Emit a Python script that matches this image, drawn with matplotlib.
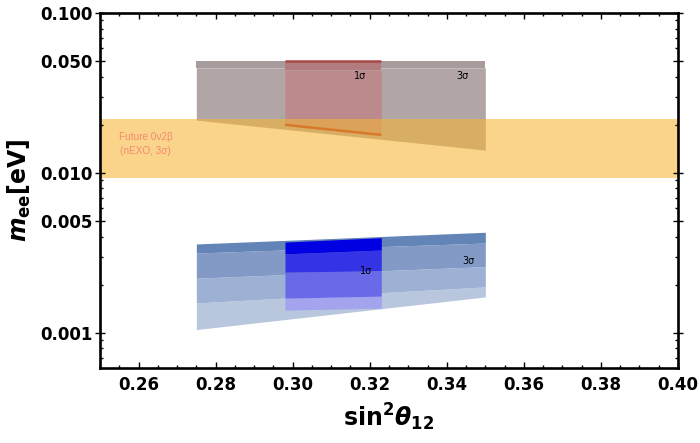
#m_ee vs sin^2(theta12) plot
import numpy as np
import matplotlib.pyplot as plt
from matplotlib.ticker import FixedLocator, FixedFormatter, MultipleLocator, LogLocator, NullFormatter

plt.rcParams['mathtext.fontset'] = 'custom'
plt.rcParams['mathtext.rm'] = 'DejaVu Sans:bold'
plt.rcParams['mathtext.bf'] = 'DejaVu Sans:bold'
plt.rcParams['mathtext.it'] = 'DejaVu Sans:italic:bold'

#Data
s12_3s      = [0.275, 0.350]   #sin^2 theta12, 3 sigma range
s12_1s      = [0.298, 0.323]   #sin^2 theta12, 1 sigma range

#Inverted ordering cloud (upper)
ih_3s_top   = [0.0500, 0.0500]
ih_3s_solid = [0.0455, 0.0455]
ih_3s_bot   = [0.0214, 0.0139]
ih_1s_top   = [0.0500, 0.0500]
ih_1s_solid = [0.0440, 0.0440]
ih_1s_bot   = [0.0200, 0.0173]

#Normal ordering cloud (lower), split by point density
nh_3s_top   = [0.00360, 0.00426]
nh_3s_solid = [0.00316, 0.00365]
nh_3s_mid   = [0.00220, 0.00260]
nh_3s_dense = [0.00154, 0.00194]
nh_3s_bot   = [0.00105, 0.00168]

nh_1s_top   = [0.00370, 0.00394]
nh_1s_solid = [0.00312, 0.00330]
nh_1s_mid   = [0.00240, 0.00245]
nh_1s_dense = [0.00165, 0.00170]
nh_1s_bot   = [0.00139, 0.00143]

#nEXO future sensitivity band
nexo_band   = [0.00935, 0.02175]

x_ticks     = [0.26, 0.28, 0.30, 0.32, 0.34, 0.36, 0.38, 0.40]
x_labels    = ['0.26', '0.28', '0.30', '0.32', '0.34', '0.36', '0.38', '0.40']
y_ticks     = [0.001, 0.005, 0.010, 0.050, 0.100]
y_labels    = ['0.001', '0.005', '0.010', '0.050', '0.100']

def main():
    fig = plt.figure(figsize=(7, 4.43), dpi=100)
    ax = fig.add_axes([100/700, 1-368/443, 578/700, 355/443])

    #IH cloud
    ax.fill_between(s12_3s, ih_3s_bot, ih_3s_solid, color='#b1a5a5', lw=0)
    ax.fill_between(s12_3s, ih_3s_solid, ih_3s_top, color='#a89b9b', lw=0)
    ax.fill_between(s12_1s, ih_1s_bot, ih_1s_solid, color='#bc8a8c', lw=0)
    ax.fill_between(s12_1s, ih_1s_solid, ih_1s_top, color='#b27c7e', lw=0)
    ax.plot(s12_1s, ih_1s_top, color='#a84848', lw=1.8, solid_capstyle='butt')

    #NH cloud
    ax.fill_between(s12_3s, nh_3s_bot, nh_3s_dense, color='#b8c6de', lw=0)
    ax.fill_between(s12_3s, nh_3s_dense, nh_3s_mid, color='#9cb1d3', lw=0)
    ax.fill_between(s12_3s, nh_3s_mid, nh_3s_solid, color='#8399c6', lw=0)
    ax.fill_between(s12_3s, nh_3s_solid, nh_3s_top, color='#6384b7', lw=0)

    ax.fill_between(s12_1s, nh_1s_bot, nh_1s_dense, color='#a4a4ee', lw=0)
    ax.fill_between(s12_1s, nh_1s_dense, nh_1s_mid, color='#6a6ae8', lw=0)
    ax.fill_between(s12_1s, nh_1s_mid, nh_1s_solid, color='#3434e6', lw=0)
    ax.fill_between(s12_1s, nh_1s_solid, nh_1s_top, color='#0000e2', lw=0)

    #nEXO band on top, semi transparent
    ax.axhspan(nexo_band[0], nexo_band[1], color='#f6b535', alpha=0.58, lw=0)
    ax.plot(s12_1s, ih_1s_bot, color='#d8782a', lw=1.8, solid_capstyle='butt')

    ax.text(0.2619, 0.0152, 'Future 0ν2β\n(nEXO, 3σ)', color='#f58a70',
            family=['Liberation Sans', 'DejaVu Sans'], fontsize=7.2,
            ha='center', va='center', linespacing=1.45)

    #sigma labels
    ax.text(0.3175, 0.0404, '1σ', fontsize=7, ha='center', va='center')
    ax.text(0.3441, 0.0404, '3σ', fontsize=7, ha='center', va='center')
    ax.text(0.3190, 0.00244, '1σ', fontsize=7, ha='center', va='center')
    ax.text(0.3457, 0.00282, '3σ', fontsize=7, ha='center', va='center')

    ax.set_yscale('log')
    ax.set_xlim(0.25, 0.40)
    ax.set_ylim(0.000604, 0.1)

    ax.xaxis.set_major_locator(FixedLocator(x_ticks))
    ax.xaxis.set_major_formatter(FixedFormatter(x_labels))
    ax.xaxis.set_minor_locator(MultipleLocator(0.005))
    ax.yaxis.set_major_locator(FixedLocator(y_ticks))
    ax.yaxis.set_major_formatter(FixedFormatter(y_labels))
    ax.yaxis.set_minor_locator(LogLocator(base=10, subs=[2, 3, 4, 6, 7, 8, 9], numticks=20))
    ax.yaxis.set_minor_formatter(NullFormatter())

    ax.tick_params(which='both', direction='in', top=True, right=True, width=1)
    ax.tick_params(which='major', length=4)
    ax.tick_params(which='minor', length=2.5)
    ax.tick_params(axis='y', which='major', direction='inout', length=7, pad=2)
    ax.tick_params(axis='x', which='major', pad=6)
    for lab in ax.get_xticklabels() + ax.get_yticklabels():
        lab.set_fontweight('bold')
        lab.set_fontsize(12)

    for sp in ax.spines.values():
        sp.set_linewidth(1.9)

    fig.text(19/700, 1-190/443, r'$m_{\mathrm{ee}}\mathrm{[eV]}$', fontsize=17,
             rotation=90, ha='center', va='center')
    fig.text(389/700, 1-417/443, r'$\mathrm{sin}^{2}\theta_{12}$', fontsize=17,
             ha='center', va='center')

    fig.savefig('out.png', dpi=100)

if __name__=="__main__":
    main()
